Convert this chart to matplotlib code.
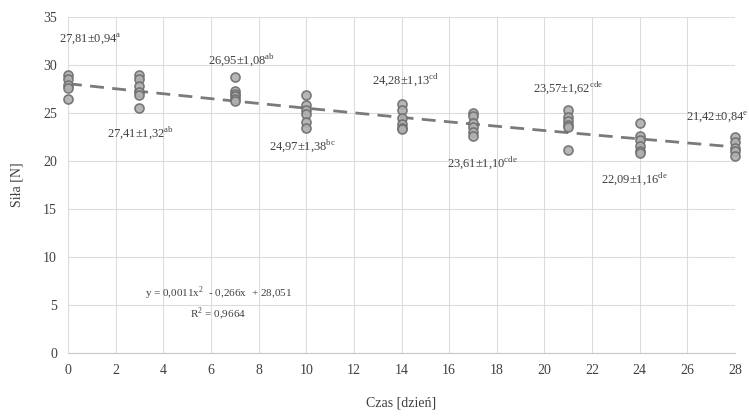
import matplotlib.pyplot as plt
import numpy as np

plt.rcParams['font.family'] = ['Liberation Serif', 'DejaVu Serif']
plt.rcParams['mathtext.fontset'] = 'custom'
plt.rcParams['mathtext.rm'] = 'Liberation Serif'

# data
days = [0, 3, 7, 10, 14, 17, 21, 24, 28]
reps = [
    [29.0, 28.5, 27.9, 27.6, 26.5],
    [29.0, 28.5, 27.8, 27.2, 26.9, 25.5],
    [28.8, 27.3, 27.0, 26.8, 26.5, 26.3],
    [26.9, 25.8, 25.3, 24.9, 24.1, 23.4],
    [25.9, 25.3, 24.5, 23.9, 23.4, 23.3],
    [25.0, 24.7, 24.0, 23.5, 23.0, 22.6],
    [25.3, 24.6, 24.2, 23.8, 23.5, 21.1],
    [24.0, 22.6, 22.2, 21.6, 21.0, 20.8],
    [22.5, 22.0, 21.4, 21.0, 20.5],
]
means = ['27,81', '27,41', '26,95', '24,97', '24,28', '23,61', '23,57', '22,09', '21,42']
sds = ['0,94', '1,32', '1,08', '1,38', '1,13', '1,10', '1,62', '1,16', '0,84']
groups = ['a', 'ab', 'ab', 'bc', 'cd', 'cde', 'cde', 'de', 'e']
trend = [0.0011, -0.266, 28.051]
r2 = '0,9664'

# label offsets (points) from day / mean
lab_off = [(16, 34), (1, -31), (5, 25), (-3, -23), (3, 29), (7, -26), (0, 28), (-4, -27), (-13, 22)]

fig = plt.figure(figsize=(7.49, 4.18), dpi=100)
ax = fig.add_axes([68/749, 1-353/418, (735-68)/749, (353-17)/418])

ax.set_xlim(0, 28)
ax.set_ylim(0, 35)
ax.set_xticks(np.arange(0, 29, 2))
ax.set_yticks(np.arange(0, 36, 5))
ax.grid(True, color='#dcdcdc', lw=0.8)
ax.set_axisbelow(True)
for s in ['top', 'right', 'left']:
    ax.spines[s].set_visible(False)
ax.spines['bottom'].set_color('#c8c8c8')
ax.tick_params(length=0, labelsize=10, colors='#404040', pad=8)

xx = np.linspace(0, 28, 200)
ax.plot(xx, np.polyval(trend, xx), ls=(0, (5, 3)), color='#7a7a7a', lw=2, zorder=2)

for d, r in zip(days, reps):
    ax.plot([d]*len(r), r, 'o', ms=6.5, mfc='#b0b0b0', mec='#6e6e6e', mew=1.2, alpha=0.9,
            zorder=3, clip_on=False)

for d, m, s, g, (dx, dy) in zip(days, means, sds, groups, lab_off):
    mv = float(m.replace(',', '.'))
    ax.annotate(m + '±' + s + '$^{\\mathrm{' + g + '}}$', (d, mv), xytext=(dx, dy),
                textcoords='offset points', ha='center', va='center', fontsize=9, color='#404040')

ax.text(6.3, 6.2, 'y = ' + str(trend[0]).replace('.', ',') + 'x$^{2}$  - ' + str(-trend[1]).replace('.', ',')
        + 'x  + ' + str(trend[2]).replace('.', ','), ha='center', va='center', fontsize=8, color='#404040')
ax.text(6.3, 4.1, 'R$^{2}$ = ' + r2, ha='center', va='center', fontsize=8, color='#404040')

ax.set_xlabel('Czas [dzień]', fontsize=10, color='#404040', labelpad=14)
ax.set_ylabel('Siła [N]', fontsize=10, color='#404040', labelpad=14)

fig.savefig('out.png', dpi=100)
